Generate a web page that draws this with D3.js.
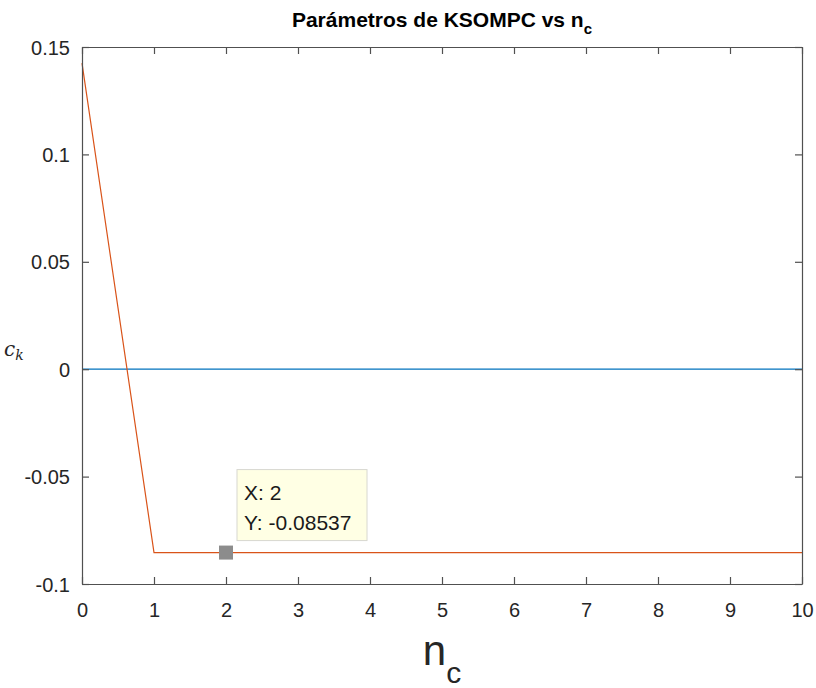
<!DOCTYPE html>
<html>
<head>
<meta charset="utf-8">
<script src="https://cdn.jsdelivr.net/npm/d3@7"></script>
<style>
  html, body { margin: 0; padding: 0; background: #fff; }
  svg { display: block; font-family: "Liberation Sans", Arial, Helvetica, sans-serif; }
</style>
</head>
<body>
<svg id="chart" width="816" height="688"></svg>
<script>
// Controller parameters versus horizon n_c
const nc = [0, 1, 2, 3, 4, 5, 6, 7, 8, 9, 10];
const ckZero = [0, 0, 0, 0, 0, 0, 0, 0, 0, 0, 0];
const ckValues = [0.1425, -0.08537, -0.08537, -0.08537, -0.08537, -0.08537, -0.08537, -0.08537, -0.08537, -0.08537, -0.08537];
const xTicks = [0, 1, 2, 3, 4, 5, 6, 7, 8, 9, 10];
const yTicks = [-0.1, -0.05, 0, 0.05, 0.1, 0.15];
const yTickLabels = ["-0.1", "-0.05", "0", "0.05", "0.1", "0.15"];
const tipPoint = { x: 2, y: -0.08537 };

const svg = d3.select("#chart");
const plotLeft = 82, plotRight = 802, plotTop = 47, plotBottom = 584;
const axisColor = "#505050";
const textColor = "#262626";
const tickLen = 7;

const x = d3.scaleLinear().domain([0, 10]).range([plotLeft, plotRight]);
const y = d3.scaleLinear().domain([-0.1, 0.15]).range([plotBottom, plotTop]);

// data lines
const line = d3.line().x((d, i) => x(nc[i])).y(d => y(d));
svg.append("path").datum(ckZero).attr("d", line)
  .attr("fill", "none").attr("stroke", "#0072BD").attr("stroke-width", 1.2);
svg.append("path").datum(ckValues).attr("d", line)
  .attr("fill", "none").attr("stroke", "#D95319").attr("stroke-width", 1.2);

// axes (box with inward ticks on all sides)
const gBottom = svg.append("g").attr("transform", `translate(0,${plotBottom})`)
  .call(d3.axisBottom(x).tickValues(xTicks).tickSizeInner(-tickLen).tickSizeOuter(0).tickPadding(19).tickFormat(d3.format("d")));
const gTop = svg.append("g").attr("transform", `translate(0,${plotTop})`)
  .call(d3.axisTop(x).tickValues(xTicks).tickSizeInner(-tickLen).tickSizeOuter(0).tickFormat(""));
const gLeft = svg.append("g").attr("transform", `translate(${plotLeft},0)`)
  .call(d3.axisLeft(y).tickValues(yTicks).tickSizeInner(-tickLen).tickSizeOuter(0).tickPadding(12)
    .tickFormat((d, i) => yTickLabels[i]));
const gRight = svg.append("g").attr("transform", `translate(${plotRight},0)`)
  .call(d3.axisRight(y).tickValues(yTicks).tickSizeInner(-tickLen).tickSizeOuter(0).tickFormat(""));

[gBottom, gTop, gLeft, gRight].forEach(g => {
  g.select(".domain").attr("stroke", axisColor).attr("stroke-width", 1.2);
  g.selectAll(".tick line").attr("stroke", axisColor).attr("stroke-width", 1.2);
  g.selectAll(".tick text").attr("fill", textColor).attr("font-size", 20)
    .attr("font-family", "Liberation Sans, Arial, sans-serif");
});
gLeft.selectAll(".tick text").attr("dy", "0.35em");

// data tip marker and box
svg.append("rect")
  .attr("x", x(tipPoint.x) - 7).attr("y", y(tipPoint.y) - 7)
  .attr("width", 14).attr("height", 14)
  .attr("fill", "#8c8c8c");
const tipX = x(tipPoint.x) + 11, tipY = y(tipPoint.y) - 83;
svg.append("rect")
  .attr("x", tipX).attr("y", tipY).attr("width", 130).attr("height", 71)
  .attr("fill", "#ffffe4").attr("stroke", "#d8d8d0").attr("stroke-width", 1);
svg.append("text").attr("x", tipX + 7).attr("y", tipY + 30)
  .attr("font-size", 21).attr("fill", "#1a1a1a").text("X: " + tipPoint.x);
svg.append("text").attr("x", tipX + 7).attr("y", tipY + 60)
  .attr("font-size", 21).attr("fill", "#1a1a1a").text("Y: " + tipPoint.y);

// title
const title = svg.append("text").attr("x", (plotLeft + plotRight) / 2).attr("y", 27)
  .attr("text-anchor", "middle").attr("font-size", 21).attr("font-weight", "bold").attr("fill", "#000");
title.append("tspan").text("Parámetros de KSOMPC vs n");
title.append("tspan").attr("dy", 7).attr("font-size", 15).text("c");

// x label
const xl = svg.append("text").attr("x", (plotLeft + plotRight) / 2).attr("y", 665)
  .attr("text-anchor", "middle").attr("font-size", 42).attr("fill", textColor);
xl.append("tspan").text("n");
xl.append("tspan").attr("dy", 18).attr("font-size", 30).text("c");

// y label
const yl = svg.append("text").attr("x", 4).attr("y", 356)
  .attr("font-family", "DejaVu Serif, Liberation Serif, serif").attr("font-style", "italic")
  .attr("font-size", 20).attr("fill", textColor);
yl.append("tspan").text("c");
yl.append("tspan").attr("dy", 4).attr("font-size", 14).text("k");
</script>
</body>
</html>
